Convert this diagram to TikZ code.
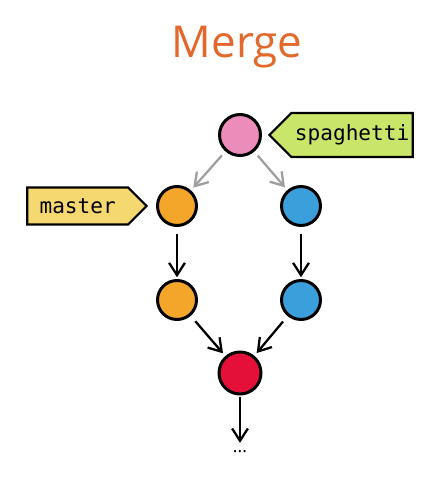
\documentclass[tikz,border=0pt]{standalone}
\usepackage{fontspec}
\setmainfont{Open Sans}
\setmonofont{DejaVu Sans Mono}
\usepackage{tikz}
\usetikzlibrary{arrows.meta, positioning, shapes.symbols}
\definecolor{titleorange}{HTML}{E2682C}
\definecolor{commitpink}{HTML}{EC8CBB}
\definecolor{commitorange}{HTML}{F4A62A}
\definecolor{commitblue}{HTML}{3A9FDB}
\definecolor{commitred}{HTML}{E4103A}
\definecolor{tagyellow}{HTML}{F6D870}
\definecolor{taggreen}{HTML}{C9E66B}

\begin{document}
\begin{tikzpicture}[x=0.02cm, y=-0.02cm,
    commit/.style={circle, draw=black, line width=1.7pt, minimum size=0.78cm, inner sep=0pt},
    branch/.style={signal, draw=black, line width=1.2pt, font=\ttfamily\fontsize{12}{14}\selectfont,
      inner xsep=2pt},
    link/.style={-{Straight Barb[length=7pt, width=9pt]}, line width=1.3pt},
    faint/.style={link, draw=gray!75}]
    \useasboundingbox (0,0) rectangle (434,487);
    \node[text=titleorange, font=\fontsize{25}{30}\selectfont] (title) at (237,47) {Merge};
    % commits
    \node[commit, fill=commitpink, minimum size=0.82cm] (pink) at (240,135) {};
    \node[commit, fill=commitorange] (o1) at (177,206) {};
    \node[commit, fill=commitblue] (b1) at (301,206) {};
    \node[commit, fill=commitorange] (o2) at (177,300) {};
    \node[commit, fill=commitblue] (b2) at (301,300) {};
    \node[commit, fill=commitred, minimum size=0.84cm] (merge) at (240,373) {};
    \node (more) at (240,452) {...};
    % branch labels
    \node[branch, fill=taggreen, signal to=west, minimum height=0.88cm, right=0.12cm of pink] (spaghetti) {spaghetti};
    \node[branch, fill=tagyellow, signal to=east, minimum height=0.74cm, left=0.16cm of o1, inner xsep=7pt] (master) {master};
    % history
    \draw[faint, shorten <=3pt, shorten >=2pt] (pink) -- (o1);
    \draw[faint, shorten <=3pt, shorten >=2pt] (pink) -- (b1);
    \draw[link, shorten <=4pt, shorten >=1pt] (o1) -- (o2);
    \draw[link, shorten <=4pt, shorten >=1pt] (b1) -- (b2);
    \draw[link, shorten <=4pt, shorten >=2pt] (o2) -- (merge);
    \draw[link, shorten <=4pt, shorten >=2pt] (b2) -- (merge);
    \draw[link, shorten <=1pt, shorten >=1pt] (merge) -- (more);
\end{tikzpicture}
\end{document}
